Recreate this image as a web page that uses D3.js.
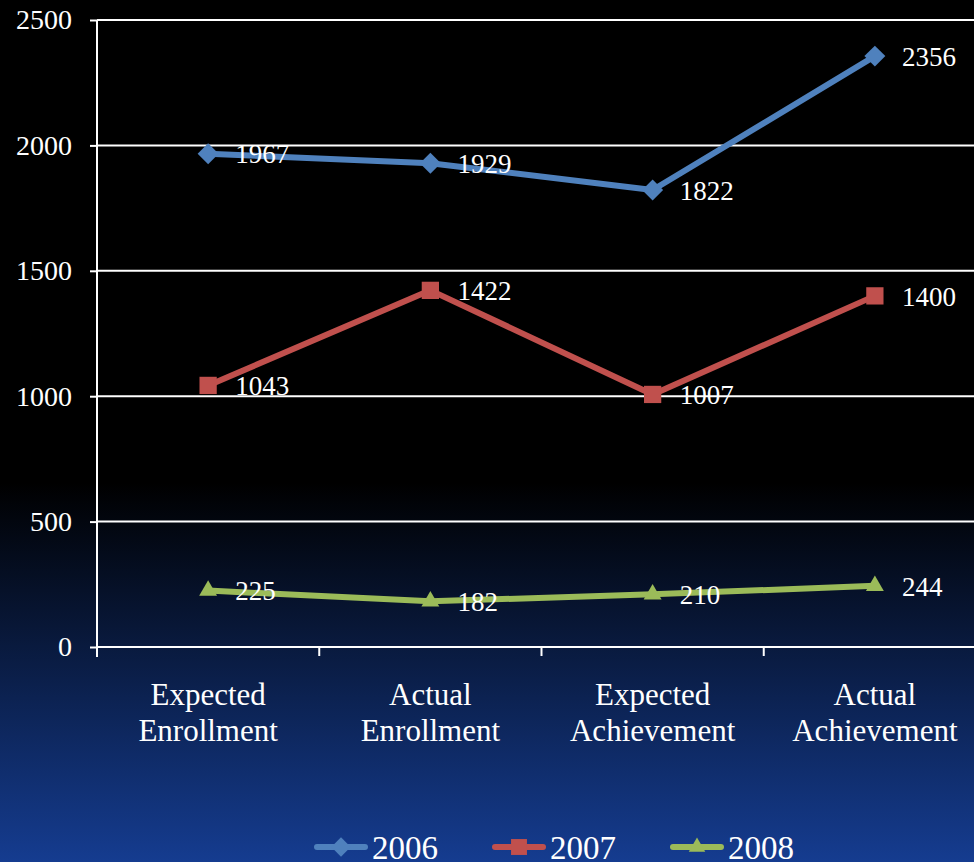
<!DOCTYPE html>
<html><head><meta charset="utf-8">
<script src="https://cdn.jsdelivr.net/npm/d3@7"></script>
<style>html,body{margin:0;padding:0;background:#000;}svg{display:block;}</style>
</head><body>
<svg id="chart" width="974" height="862"></svg>
<script>
const categories = [["Expected","Enrollment"],["Actual","Enrollment"],["Expected","Achievement"],["Actual","Achievement"]];
const seriesNames = ["2006","2007","2008"];
const values2006 = [1967, 1929, 1822, 2356];
const values2007 = [1043, 1422, 1007, 1400];
const values2008 = [225, 182, 210, 244];
const yTicks = [0, 500, 1000, 1500, 2000, 2500];
const colors = ["#4F81BD", "#C0504D", "#9BBB59"];
const markers = ["diamond", "square", "triangle"];

const series = [values2006, values2007, values2008].map((v, i) => ({name: seriesNames[i], values: v, color: colors[i], marker: markers[i]}));

(function(){
const W = 974, H = 862;
const pL = 97, pR = 986, pT = 20, pB = 647;
const svg = d3.select("#chart");
const defs = svg.append("defs");
const grad = defs.append("linearGradient").attr("id","bg").attr("x1",0).attr("y1",0).attr("x2",0).attr("y2",1);
grad.append("stop").attr("offset","0%").attr("stop-color","#000000");
grad.append("stop").attr("offset","56%").attr("stop-color","#000000");
grad.append("stop").attr("offset","100%").attr("stop-color","#153c90");
svg.append("rect").attr("width",W).attr("height",H).attr("fill","url(#bg)");

const x = d3.scaleBand().domain(d3.range(categories.length)).range([pL, pR]);
const y = d3.scaleLinear().domain([0, 2500]).range([pB, pT]);
const serif = "'Liberation Serif','Times New Roman',serif";

svg.append("g").selectAll("line").data(yTicks.filter(t => t > 0)).join("line")
  .attr("x1", pL).attr("x2", W).attr("y1", d => y(d)).attr("y2", d => y(d))
  .attr("stroke", "#fff").attr("stroke-width", 2);

const yAxis = svg.append("g").attr("transform", `translate(${pL},0)`)
  .call(d3.axisLeft(y).tickValues(yTicks).tickSize(7).tickPadding(18).tickFormat(d3.format("d")));
yAxis.select(".domain").attr("stroke","#fff").attr("stroke-width",2).attr("d", `M0,${pT}V${pB+10}`);
yAxis.selectAll(".tick line").attr("stroke","#fff").attr("stroke-width",2);
yAxis.selectAll(".tick text").attr("fill","#fff").style("font-family",serif).style("font-size","28px").attr("dy","0.32em");

const xAxis = svg.append("g").attr("transform", `translate(0,${pB})`);
xAxis.append("line").attr("x1", pL).attr("x2", W).attr("y1",0).attr("y2",0).attr("stroke","#fff").attr("stroke-width",2);
xAxis.selectAll("line.tk").data(d3.range(1, categories.length+1)).join("line").attr("class","tk")
  .attr("x1", d => pL + d*x.bandwidth()).attr("x2", d => pL + d*x.bandwidth())
  .attr("y1",0).attr("y2",9).attr("stroke","#fff").attr("stroke-width",2);
const xl = xAxis.selectAll("text").data(categories).join("text")
  .attr("x", (d,i) => x(i) + x.bandwidth()/2).attr("y", 58)
  .attr("text-anchor","middle").attr("fill","#fff").style("font-family",serif).style("font-size","31px");
xl.selectAll("tspan").data(d => d).join("tspan")
  .attr("x", function(){ return this.parentNode.getAttribute("x"); })
  .attr("dy", (d,i) => i === 0 ? 0 : 36).text(d => d);

const symbolFor = (m, k = 1) => m === "diamond" ? d3.symbol(d3.symbolDiamond2, 280 * k)
  : m === "square" ? d3.symbol(d3.symbolSquare2, 380 * k) : d3.symbol(d3.symbolTriangle2, 230 * k);

const cx = i => x(i) + x.bandwidth()/2;
const line = d3.line().x((d,i) => cx(i)).y(d => y(d));

series.forEach(s => {
  const g = svg.append("g");
  g.append("path").attr("d", line(s.values)).attr("fill","none").attr("stroke", s.color).attr("stroke-width", 6).attr("stroke-linejoin","round");
  g.selectAll("path.m").data(s.values).join("path").attr("class","m")
    .attr("transform", (d,i) => `translate(${cx(i)},${y(d)})`)
    .attr("d", symbolFor(s.marker)).attr("fill", s.color);
  g.selectAll("text").data(s.values).join("text")
    .attr("x", (d,i) => cx(i) + 27).attr("y", d => y(d)).attr("dy","0.36em")
    .attr("fill","#fff").style("font-family",serif).style("font-size","27px").text(d => d);
});

const legendX = [315, 493, 671];
const lg = svg.append("g").attr("transform", "translate(0,847)");
series.forEach((s, i) => {
  const g = lg.append("g").attr("transform", `translate(${legendX[i]},0)`);
  g.append("line").attr("x1",2).attr("x2",50).attr("y1",0).attr("y2",0).attr("stroke",s.color).attr("stroke-width",6).attr("stroke-linecap","round");
  g.append("path").attr("transform","translate(26,0)").attr("d", symbolFor(s.marker, 0.85)).attr("fill", s.color);
  g.append("text").attr("x",57).attr("y",0).attr("dy","0.35em").attr("fill","#fff")
    .style("font-family",serif).style("font-size","33px").text(s.name);
});
})();
</script>
</body></html>
